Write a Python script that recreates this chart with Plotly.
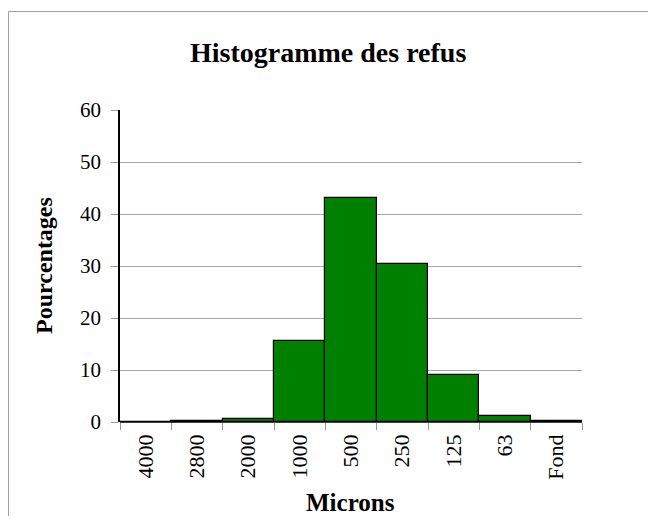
import plotly.graph_objects as go

categories = ["4000", "2800", "2000", "1000", "500", "250", "125", "63", "Fond"]
percentages = [0.0, 0.2, 0.6, 15.6, 43.0, 30.3, 9.0, 1.1, 0.2]

# page has an 8px body margin; work in figure coordinates and keep the
# figure small enough that no scrollbar appears
OFF = 8
W, H = 656 - 2 * OFF, 524 - 2 * OFF
L, R, T, B = 120 - OFF, 582 - OFF, 110 - OFF, 422 - OFF
pw, ph = R - L, B - T

font = "Liberation Serif, Times New Roman, serif"


def px(x):
    return (x - OFF - L) / pw


def py(y):
    return (B - (y - OFF)) / ph


fig = go.Figure(go.Bar(
    x=categories, y=percentages,
    marker=dict(color="#008000", line=dict(color="black", width=1.2)),
    width=1.0,
))

fig.update_layout(
    width=W, height=H,
    margin=dict(l=L, r=W - R, t=T, b=H - B, pad=0),
    paper_bgcolor="white", plot_bgcolor="white",
    bargap=0, showlegend=False,
    font=dict(family=font, color="black", size=21),
    xaxis=dict(
        type="category", tickangle=-90, tickson="boundaries",
        ticks="outside", ticklen=7, tickcolor="#999", showgrid=False,
        showline=False, zeroline=False,
        tickfont=dict(size=22, family=font),
        ticklabelstandoff=7,
    ),
    yaxis=dict(
        range=[0, 60], dtick=10, showgrid=True, gridcolor="#a6a6a6", gridwidth=1,
        showline=True, linecolor="black", linewidth=1.5,
        ticks="outside", ticklen=7, tickcolor="#999",
        zeroline=False, tickfont=dict(size=21, family=font),
        ticklabelstandoff=6,
    ),
    annotations=[
        dict(text="<b>Histogramme des refus</b>", xref="paper", yref="paper",
             x=px(328), y=py(52), xanchor="center", yanchor="middle",
             showarrow=False, font=dict(size=28, family=font)),
        dict(text="<b>Microns</b>", xref="paper", yref="paper",
             x=px(350), y=py(502), xanchor="center", yanchor="middle",
             showarrow=False, font=dict(size=25, family=font)),
        dict(text="<b>Pourcentages</b>", xref="paper", yref="paper",
             x=px(44), y=py(266), xanchor="center", yanchor="middle",
             textangle=-90, showarrow=False, font=dict(size=24, family=font)),
    ],
    shapes=[
        dict(type="line", xref="paper", yref="paper", x0=0, x1=1, y0=0, y1=0,
             line=dict(color="black", width=1.5)),
        dict(type="line", xref="paper", yref="paper",
             x0=px(8.5), x1=px(700), y0=py(11.5), y1=py(11.5),
             line=dict(color="#a0a0a0", width=1), layer="below"),
        dict(type="line", xref="paper", yref="paper",
             x0=px(8.5), x1=px(8.5), y0=py(600), y1=py(11.5),
             line=dict(color="#a0a0a0", width=1), layer="below"),
    ],
)

fig.write_html("out.html")
